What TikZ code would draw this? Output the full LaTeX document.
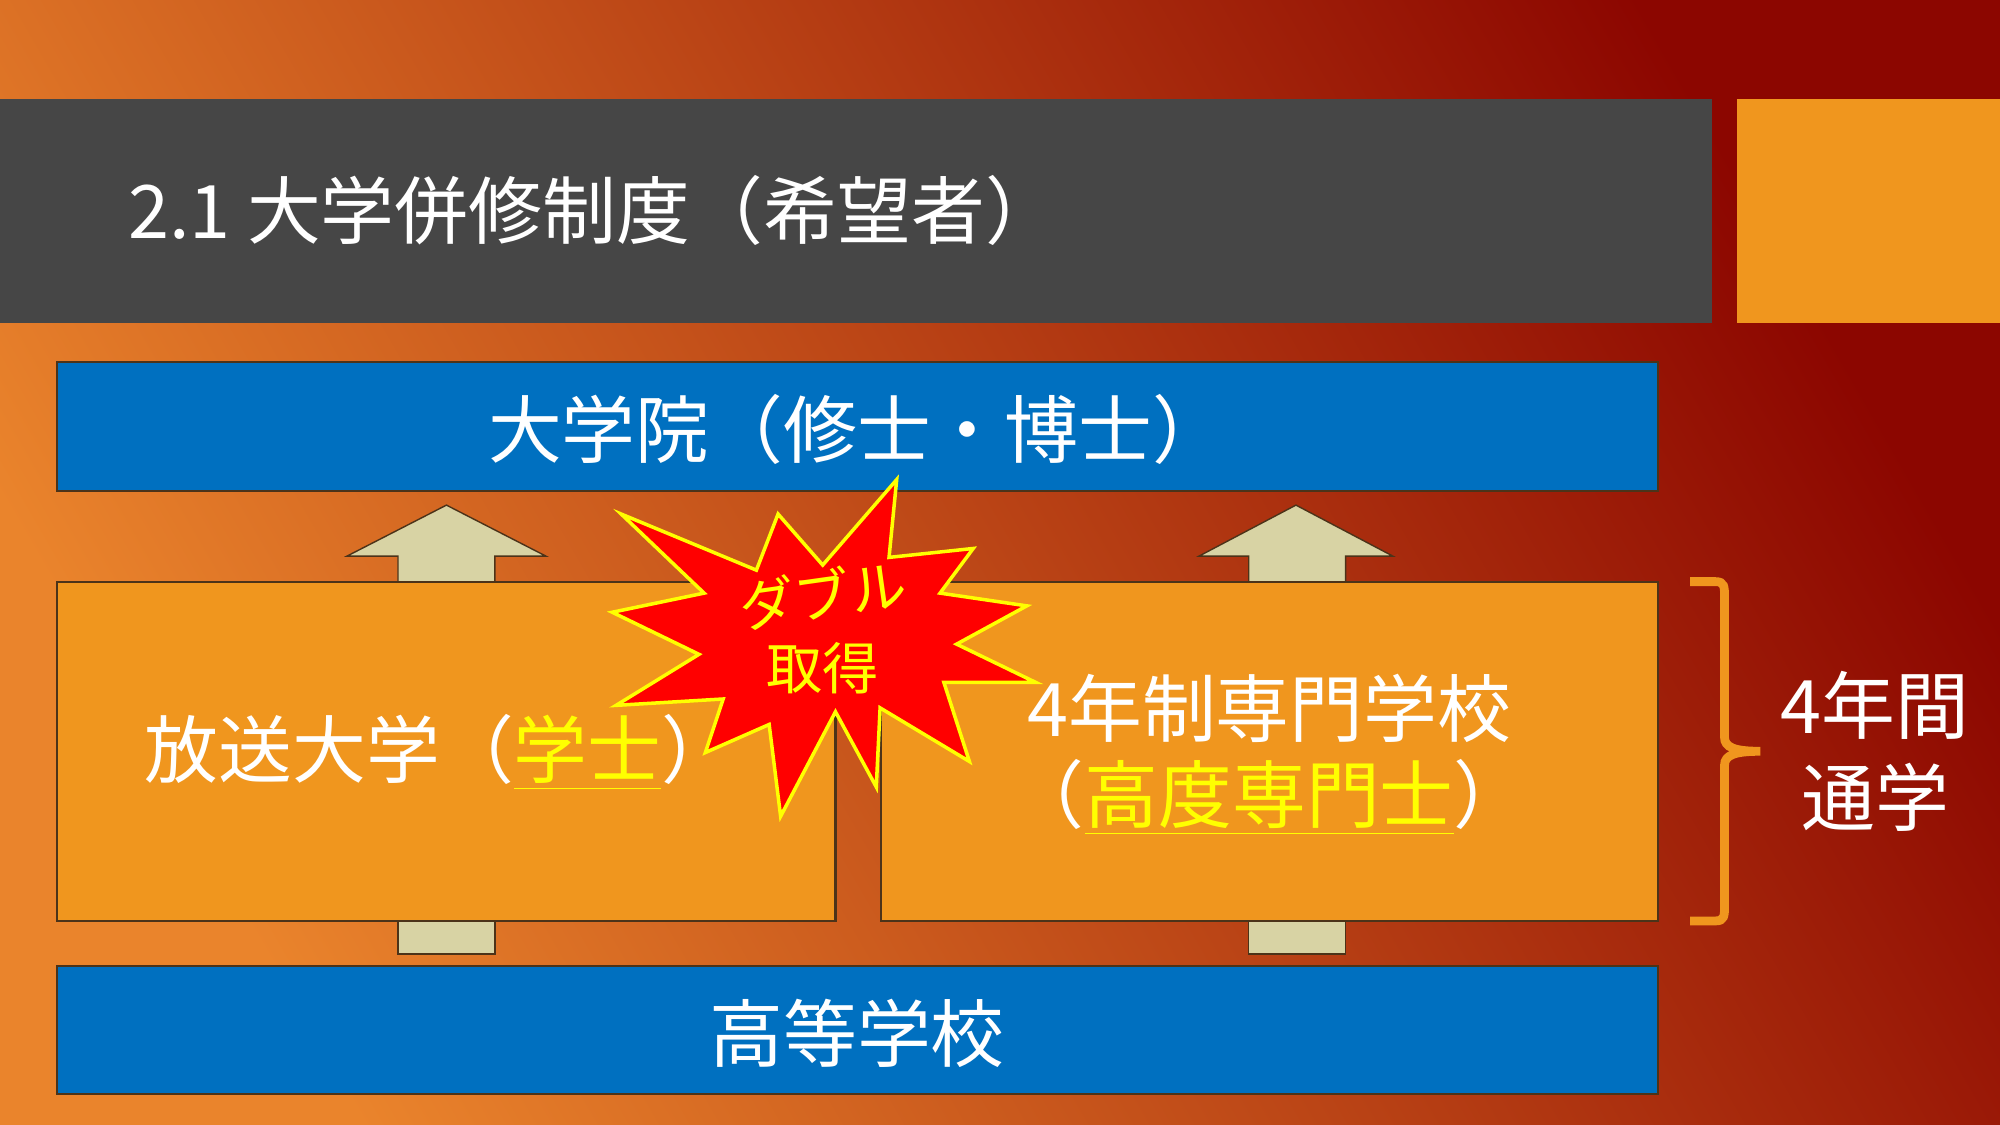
\documentclass[tikz,border=0pt]{standalone}
\usepackage{fontspec}
\setmainfont{Noto Sans CJK JP}
\definecolor{bar}{HTML}{464646}
\definecolor{org}{HTML}{F0961E}
\definecolor{blu}{HTML}{0070C0}
\definecolor{tan}{HTML}{D8D3A4}
\definecolor{yel}{HTML}{FFFF00}
\definecolor{bga}{HTML}{EA842C}
\definecolor{bgb}{HTML}{8C0600}
\tikzset{
 panel/.style={draw=black!60!brown,line width=0.6pt},
 big/.style={font=\fontsize{21}{24}\selectfont,text=white,inner sep=0pt},
 uarrow/.style={fill=tan,draw=black!60!brown,line width=0.4pt},
}
\begin{document}
\begin{tikzpicture}[x=0.012755cm,y=-0.012755cm]
\useasboundingbox (0,0) rectangle (1568,882);
\shade[left color=bga,right color=bgb,shading angle=120] (0,0) rectangle (1568,882);
\fill[bar] (0,78) rectangle (1342,253);
\fill[org] (1362,78) rectangle (1568,253);
\node[big,anchor=west] (title) at (100,165) {2.1 大学併修制度（希望者）};
\draw[panel,fill=blu] (45,284) rectangle (1300,385);
\node[big] (toptxt) at (672,337) {大学院（修士・博士）};
\draw[panel,fill=blu] (45,757) rectangle (1300,858);
\node[big] (bottxt) at (672,810) {高等学校};
% arrows
\draw[uarrow] (312,456) -- (312,436) -- (272,436) -- (350,396) -- (428,436) -- (388,436) -- (388,456);
\draw[uarrow] (979,456) -- (979,436) -- (940,436) -- (1016,396) -- (1092,436) -- (1055,436) -- (1055,456);
\draw[uarrow] (312,722) rectangle (388,748);
\draw[uarrow] (979,722) rectangle (1055,748);
\draw[panel,fill=org] (45,456) rectangle (655,722);
\draw[panel,fill=org] (691,456) rectangle (1300,722);
\node[big] (ltxt) at (345,590) {放送大学（\textcolor{yel}{\underline{学士}}）};
\node[big] (r1) at (995,555) {4年制専門学校};
\node[big] (r2) at (995,625) {（\textcolor{yel}{\underline{高度専門士}}）};
% star
\draw[fill=red,draw=yel,line width=1pt] (703,376) -- (697,437) -- (763,430) -- (737,465) -- (805,475) -- (750,505) -- (812,535) -- (740,535) -- (760,597) -- (690,555) -- (687,617) -- (655,558) -- (612,640) -- (603,568) -- (553,590) -- (567,548) -- (483,553) -- (548,513) -- (480,480) -- (552,465) -- (487,403) -- (593,447) -- (610,403) -- (645,443) -- cycle;
\node[font=\fontsize{16}{19}\selectfont,text=yel,inner sep=0pt,rotate=8] (s1) at (645,466) {ダブル};
\node[font=\fontsize{16}{19}\selectfont,text=yel,inner sep=0pt] (s2) at (645,524) {取得};
% brace
\draw[org,line width=2.5pt] (1325,456) -- (1345,456) .. controls (1352,456) and (1352,460) .. (1352,468) -- (1352,578) .. controls (1352,586) and (1360,589) .. (1380,589) .. controls (1360,589) and (1352,592) .. (1352,600) -- (1352,710) .. controls (1352,718) and (1352,722) .. (1345,722) -- (1325,722);
\node[big] (n1) at (1470,553) {4年間};
\node[big] (n2) at (1470,625) {通学};
\end{tikzpicture}
\end{document}
